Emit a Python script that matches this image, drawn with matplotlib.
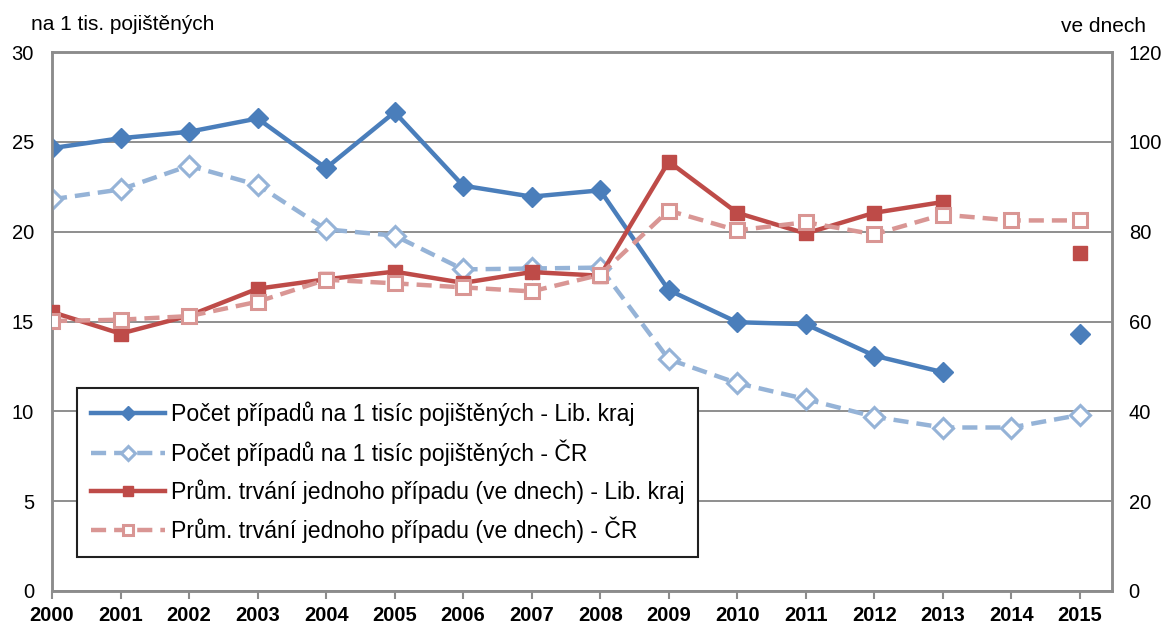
import matplotlib
matplotlib.use("Agg")
import matplotlib.pyplot as plt
import numpy as np

years = [str(y) for y in range(2000, 2016)]
count_lib = [24.65, 25.2, 25.56, 26.3, 23.54, 26.65, 22.56, 21.95, 22.3, 16.75, 14.96, 14.85, 13.1, 12.18, None, 14.3]
count_cr = [21.8, 22.35, 23.67, 22.6, 20.13, 19.78, 17.9, 17.95, 18.0, 12.9, 11.57, 10.68, 9.7, 9.1, 9.1, 9.8]
dur_lib = [62.1, 57.3, 61.3, 67.3, 69.4, 71.1, 68.6, 71.0, 70.2, 95.6, 84.2, 79.6, 84.2, 86.6, None, 75.2]
dur_cr = [60.1, 60.4, 61.2, 64.4, 69.3, 68.5, 67.6, 66.7, 70.4, 84.7, 80.3, 82.1, 79.4, 83.8, 82.5, 82.5]

labels = ["Počet případů na 1 tisíc pojištěných - Lib. kraj",
          "Počet případů na 1 tisíc pojištěných - ČR",
          "Prům. trvání jednoho případu (ve dnech) - Lib. kraj",
          "Prům. trvání jednoho případu (ve dnech) - ČR"]

plt.rcParams['font.family'] = ['Liberation Sans', 'DejaVu Sans']

W, H = 1169, 626
fig = plt.figure(figsize=(W/100, H/100), dpi=100)
L, R, T, B = 52, 1112, 52, 591
ax = fig.add_axes([L/W, 1-B/H, (R-L)/W, (B-T)/H])
ax2 = ax.twinx()

def arr(v):
    return np.array([np.nan if x is None else x for x in v], dtype=float)

x = np.arange(len(years))
c_blue = '#4A7EBB'
c_lblue = '#95B3D7'
c_red = '#BE4B48'
c_lred = '#D99694'
lw = 3.2
dash = (0, (3.4, 1.8))

h1, = ax.plot(x, arr(count_lib), color=c_blue, lw=lw, marker='D', ms=10, mfc=c_blue, mec=c_blue, zorder=3)
h2, = ax.plot(x, arr(count_cr), color=c_lblue, lw=lw, ls=dash, marker='D', ms=10, mfc='white', mec=c_lblue, mew=2.2, zorder=4)
h3, = ax2.plot(x, arr(dur_lib), color=c_red, lw=lw, marker='s', ms=10.5, mfc=c_red, mec=c_red, zorder=3)
h4, = ax2.plot(x, arr(dur_cr), color=c_lred, lw=lw, ls=dash, marker='s', ms=10.5, mfc='white', mec=c_lred, mew=2.2, zorder=4)

ax.set_xlim(0, 15.47)
ax.set_ylim(0, 30)
ax2.set_ylim(0, 120)
ax.set_yticks(range(0, 31, 5))
ax2.set_yticks(range(0, 121, 20))
ax.set_xticks(x)
ax.set_xticklabels(years, fontsize=14.5, fontweight='bold')
ax.grid(axis='y', color='#868686', lw=1.3)
ax.set_axisbelow(True)
for a in (ax, ax2):
    for s in a.spines.values():
        s.set_color('#8C8C8C')
        s.set_linewidth(1.8)
ax.tick_params(axis='y', length=0, labelsize=14.5, pad=13)
ax2.tick_params(axis='y', length=0, labelsize=14.5, pad=12)
ax.tick_params(axis='x', length=6, color='#8C8C8C', width=1.5, pad=5)

fig.text(31/W, 1-24/H, "na 1 tis. pojištěných", fontsize=15, va='center', ha='left')
fig.text(1146/W, 1-27/H, "ve dnech", fontsize=15, va='center', ha='right')

leg = ax2.legend([h1, h2, h3, h4], labels, loc='upper left',
                 bbox_to_anchor=((77-L)/(R-L), (B-388)/(B-T)),
                 fontsize=16.6, frameon=True, fancybox=False, edgecolor='#202020',
                 framealpha=1, handlelength=3.2, handletextpad=0.27, labelspacing=0.57,
                 borderpad=0.6, borderaxespad=0, markerscale=0.75)
leg.get_frame().set_linewidth(1.5)

fig.savefig('out.png', dpi=100)
